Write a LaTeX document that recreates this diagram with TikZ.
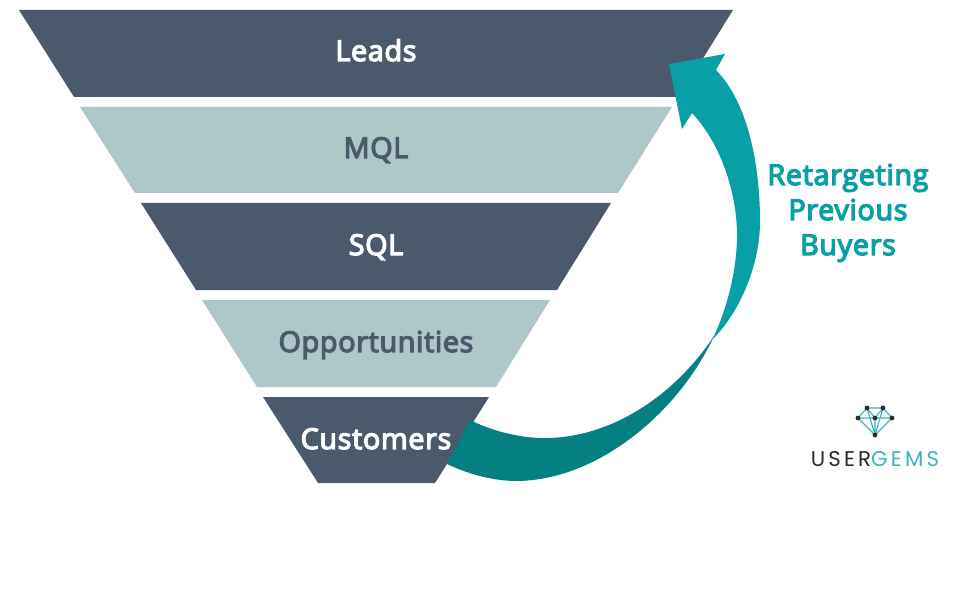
\documentclass[tikz,border=0pt]{standalone}
\usepackage{fontspec}
\setmainfont{Open Sans}
\newfontfamily\semifont{Open Sans}[FakeBold=4.5,LetterSpace=2.5]
\newfontfamily\logofont{Poppins}[LetterSpace=15]
\definecolor{slate}{HTML}{4A5A6C}
\definecolor{pale}{HTML}{AEC8C9}
\definecolor{tealA}{HTML}{089FA6}
\definecolor{tealB}{HTML}{047F82}
\definecolor{gemline}{HTML}{3FB4BA}
\definecolor{logoDark}{HTML}{2B2B2B}
\tikzset{
  x=0.75pt,y=-0.75pt,
  band/.style={font=\fontsize{21.5}{25}\selectfont\semifont,inner sep=0pt,anchor=base},
  lightlabel/.style={band,text=white},
  darklabel/.style={band,text=slate},
  side/.style={font=\fontsize{21.5}{25}\selectfont\semifont,text=tealA,inner sep=0pt,anchor=base},
  gemedge/.style={draw=gemline,line width=0.85pt},
  gemdot/.style={circle,fill=logoDark,inner sep=0pt,minimum size=3.6pt},
}
\begin{document}
\begin{tikzpicture}
\useasboundingbox (0,0) rectangle (955,595);
\fill[white] (0,0) rectangle (955,595);
\fill[slate] (19,10) -- (733,10) -- (679,97) -- (74,97) -- cycle;
\fill[pale] (80,107) -- (672,107) -- (618,193) -- (135,193) -- cycle;
\fill[slate] (141,203) -- (611,203) -- (557,290) -- (196,290) -- cycle;
\fill[pale] (202,300) -- (550,300) -- (496,387) -- (257,387) -- cycle;
\fill[slate] (263,397) -- (489,397) -- (435,483) -- (318,483) -- cycle;
\node[lightlabel] (leads) at (376,61) {Leads};
\node[darklabel] (mql) at (376,158) {MQL};
\node[lightlabel] (sql) at (376,255) {SQL};
\node[darklabel] (opp) at (376,352) {Opportunities};
\node[lightlabel] (cust) at (376,449) {Customers};
% arrow, dark lower part
\fill[tealB] (714,336) .. controls (675,395) and (610,440) .. (540,438)
  .. controls (515,437) and (490,430) .. (470,420)
  -- (447,464)
  .. controls (470,475) and (495,481) .. (517,481)
  .. controls (600,480) and (680,410) .. (714,336) -- cycle;
% arrow, light upper part
\fill[tealA] (669,64) -- (725,54) -- (716,70)
  .. controls (750,105) and (760,170) .. (760,222)
  .. controls (760,262) and (742,310) .. (712,340)
  .. controls (726,312) and (737,272) .. (737,235)
  .. controls (737,195) and (722,145) .. (692,113)
  -- (682,129) -- cycle;
\node[side] (r1) at (848,185) {Retargeting};
\node[side] (r2) at (848,220) {Previous};
\node[side] (r3) at (848,255) {Buyers};
% logo
\coordinate (g1) at (858,418);
\coordinate (g2) at (867,408);
\coordinate (g3) at (883,408);
\coordinate (g4) at (892,418);
\coordinate (g5) at (875,418);
\coordinate (g6) at (875,435);
\draw[gemedge] (g1) -- (g2) -- (g3) -- (g4) -- (g6) -- (g1) -- (g4);
\draw[gemedge] (g2) -- (g5) -- (g3) (g5) -- (g6) (g2) -- (g6) (g3) -- (g6);
\foreach \g in {g1,g2,g3,g4,g5,g6} \node[gemdot] at (\g) {};
\node[inner sep=0pt,font=\fontsize{16}{18}\selectfont\logofont,anchor=base] (logo) at (875,466) {\textcolor{logoDark}{USER}\textcolor{gemline}{GEMS}};
\end{tikzpicture}
\end{document}
